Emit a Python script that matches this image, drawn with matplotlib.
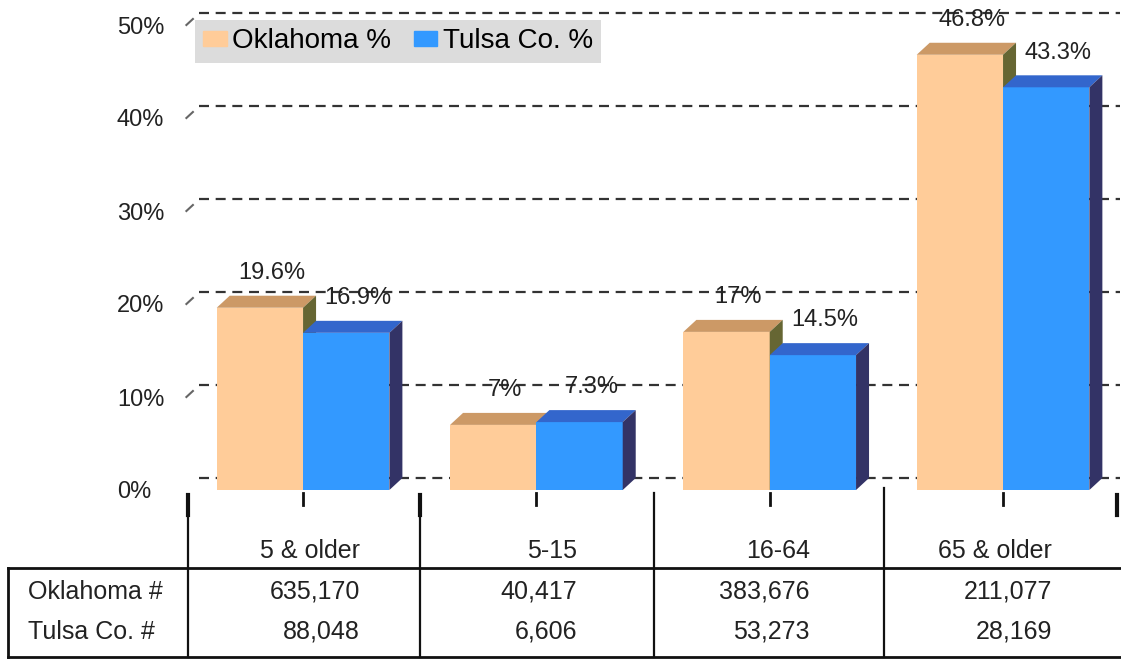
import matplotlib
matplotlib.use("Agg")
import matplotlib.pyplot as plt
from matplotlib.patches import Polygon, Patch
from matplotlib.lines import Line2D
import numpy as np

# Data
categories = ['5 & older', '5-15', '16-64', '65 & older']
oklahoma_pct = [19.6, 7, 17, 46.8]
tulsa_pct = [16.9, 7.3, 14.5, 43.3]
oklahoma_num = ['635,170', '40,417', '383,676', '211,077']
tulsa_num = ['88,048', '6,606', '53,273', '28,169']
row_labels = ['Oklahoma #', 'Tulsa Co. #']
yticks = [0, 10, 20, 30, 40, 50]

# Colours: front, top, side
ok_cols = ('#FFCC99', '#CC9966', '#666633')
tu_cols = ('#3399FF', '#3366CC', '#333366')

plt.rcParams['font.family'] = ['Liberation Sans', 'DejaVu Sans']

W, H = 1121, 660
fig = plt.figure(figsize=(W / 100, H / 100), dpi=100)


def fx(x):
    return x / W


def fy(y):
    return 1 - y / H


ax = fig.add_axes([fx(186.4), fy(490), 933.3 / W, 490 / H])
ax.set_xlim(-0.5, 3.5)
ax.set_ylim(0, 490 / 9.3)
for s in ax.spines.values():
    s.set_visible(False)
ax.set_xticks([])
ax.set_yticks(yticks)
ax.set_yticklabels([f'{v}%' for v in yticks], fontsize=17, color='#222222')
ax.tick_params(axis='y', length=0, pad=50)
for lab in ax.get_yticklabels():
    lab.set_horizontalalignment('left')

w = 0.37
dx = 13 / 233.3   # depth in x (data units)
dy = 12 / 9.3     # depth in y (data units)
x = np.arange(len(categories))

# back-wall dashed grid
ax.hlines(np.array(yticks) + dy, -0.5 + dx, 3.5, colors='#333333',
          linestyles=(0, (4.5, 3)), linewidth=1.6, zorder=1)
# little diagonal ticks on the left wall
for v in yticks[1:]:
    ax.plot([-0.5, -0.5 + 0.5 * dx], [v, v + 0.5 * dy], color='#666666',
            lw=1.5, zorder=1, clip_on=False)


def bar3d(xs, vals, cols, z):
    ax.bar(xs, vals, w, color=cols[0], zorder=z)
    for xc, v in zip(xs, vals):
        x0, x1 = xc - w / 2, xc + w / 2
        ax.add_patch(Polygon([(x0, v), (x0 + dx, v + dy), (x1 + dx, v + dy), (x1, v)],
                             closed=True, color=cols[1], zorder=z, lw=0))
        ax.add_patch(Polygon([(x1, 0), (x1, v), (x1 + dx, v + dy), (x1 + dx, dy)],
                             closed=True, color=cols[2], zorder=z, lw=0))
        ax.annotate(f'{v:g}%', (xc, v), xytext=(8.6, 25), textcoords='offset points',
                    ha='center', va='center', fontsize=17, color='#222222', zorder=6)


bar3d(x - w / 2, oklahoma_pct, ok_cols, 3)
bar3d(x + w / 2, tulsa_pct, tu_cols, 4)

# legend
handles = [Patch(color=ok_cols[0], label='Oklahoma %'), Patch(color=tu_cols[0], label='Tulsa Co. %')]
leg = fig.legend(handles=handles, loc='upper left', bbox_to_anchor=(fx(195), fy(20)),
                 ncol=2, fontsize=20, frameon=True, fancybox=False, facecolor='#DCDCDC',
                 edgecolor='none', framealpha=1, borderaxespad=0, borderpad=0.3,
                 handlelength=0.85, handleheight=0.5, handletextpad=0.2, columnspacing=0.8)

# data table below the chart
lc = '#111111'


def fline(x0, y0, x1, y1, lw=2.0):
    fig.add_artist(Line2D([fx(x0), fx(x1)], [fy(y0), fy(y1)], color=lc, lw=lw))


fline(8, 568, W, 568)
fline(8, 657, W, 657)
fline(8, 568, 8, 657)
for xv, ytop in [(188, 497), (420, 497), (654, 493), (884, 488)]:
    fline(xv, ytop, xv, 657, lw=1.6)
for xv in [188, 420, 1117]:
    fline(xv, 495, xv, 515, lw=3)
for xv in [303, 536, 770, 1003]:
    fline(xv, 493, xv, 505, lw=2)

right_edges = [360, 577, 810, 1052]
for r, c in zip(right_edges, categories):
    fig.text(fx(r), fy(551), c, ha='right', va='center', fontsize=18, color='#222222')
for r, a, b in zip(right_edges, oklahoma_num, tulsa_num):
    fig.text(fx(r), fy(592), a, ha='right', va='center', fontsize=18, color='#222222')
    fig.text(fx(r), fy(632), b, ha='right', va='center', fontsize=18, color='#222222')
fig.text(fx(28), fy(592), row_labels[0], ha='left', va='center', fontsize=18, color='#222222')
fig.text(fx(28), fy(632), row_labels[1], ha='left', va='center', fontsize=18, color='#222222')

fig.savefig('out.png', dpi=100)
